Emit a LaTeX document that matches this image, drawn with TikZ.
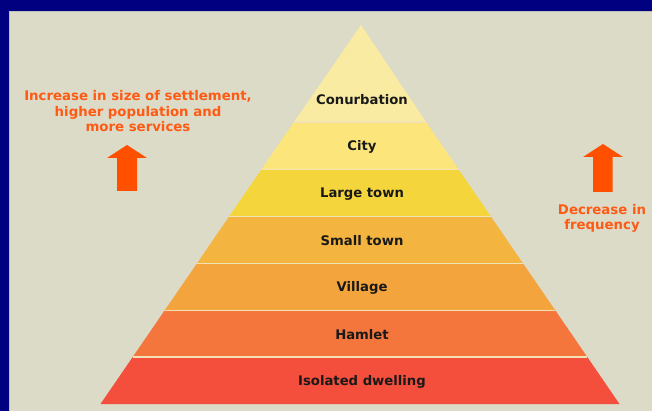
\documentclass[tikz,border=0pt]{standalone}
\usepackage{fontspec}
\setmainfont{DejaVu Sans}
\begin{document}
\begin{tikzpicture}[x=1pt,y=-1pt,
  lbl/.style={font=\bfseries\fontsize{13.2}{15}\selectfont, text=black!90, inner sep=0pt},
  side/.style={font=\bfseries\fontsize{13.3}{15.5}\selectfont, text=orangetxt, align=center, inner sep=0pt},
  sep/.style={draw=sepcol, line width=1.6pt},
  arrowshape/.style={fill=arrowcol, draw=none}]
\definecolor{bg}{HTML}{DCDBC8}
\definecolor{navy}{HTML}{000080}
\definecolor{orangetxt}{HTML}{FF5A14}
\definecolor{arrowcol}{HTML}{FF5000}
\definecolor{sepcol}{HTML}{F2E3B6}
\definecolor{c1}{HTML}{FAEBA2}
\definecolor{c2}{HTML}{FCE57A}
\definecolor{c3}{HTML}{F4D63C}
\definecolor{c4}{HTML}{F4B440}
\definecolor{c5}{HTML}{F4A43C}
\definecolor{c6}{HTML}{F4763C}
\definecolor{c7}{HTML}{F44E3C}
\useasboundingbox (0,0) rectangle (652,411);
\fill[bg] (0,0) rectangle (652,411);
\fill[navy] (0,0) rectangle (652,11);
\fill[navy] (0,0) rectangle (9,411);
\draw[gray!50, line width=0.8pt] (9.4,11.4) -- (652,11.4);
\draw[gray!50, line width=0.8pt] (9.4,11.4) -- (9.4,411);
% pyramid bands
\fill[c1] (361,25) -- (426,122) -- (294,122) -- cycle;
\fill[c2] (294,122) -- (426,122) -- (458.6,169.5) -- (261.4,169.5) -- cycle;
\fill[c3] (261.4,169.5) -- (458.6,169.5) -- (490.9,216.5) -- (229.1,216.5) -- cycle;
\fill[c4] (229.1,216.5) -- (490.9,216.5) -- (523.1,263.5) -- (196.9,263.5) -- cycle;
\fill[c5] (196.9,263.5) -- (523.1,263.5) -- (555.4,310.5) -- (164.6,310.5) -- cycle;
\fill[c6] (164.6,310.5) -- (555.4,310.5) -- (587.3,357) -- (132.7,357) -- cycle;
\fill[c7] (132.7,357) -- (587.3,357) -- (619.5,404) -- (100.5,404) -- cycle;
\draw[sep] (294,122) -- (426,122);
\draw[sep] (261.4,169.5) -- (458.6,169.5);
\draw[sep] (229.1,216.5) -- (490.9,216.5);
\draw[sep] (196.9,263.5) -- (523.1,263.5);
\draw[sep] (164.6,310.5) -- (555.4,310.5);
\draw[sep] (132.7,357) -- (587.3,357);
% labels
\node[lbl] (conurb) at (362,100) {Conurbation};
\node[lbl] (city) at (362,147) {City};
\node[lbl] (large) at (362,194) {Large town};
\node[lbl] (small) at (362,241) {Small town};
\node[lbl] (village) at (362,288) {Village};
\node[lbl] (hamlet) at (362,335) {Hamlet};
\node[lbl] (isolated) at (362,382) {Isolated dwelling};
% side texts
\node[side] (inc) at (138,111.5) {Increase in size of settlement,\\higher population and\\more services};
\node[side] (dec) at (602,218.5) {Decrease in\\frequency};
% arrows
\fill[arrowshape] (127,145) -- (147,158) -- (137,158) -- (137,191) -- (117,191) -- (117,158) -- (107,158) -- cycle;
\fill[arrowshape] (603,144) -- (623,157) -- (612.5,157) -- (612.5,192) -- (593,192) -- (593,157) -- (583,157) -- cycle;
\end{tikzpicture}
\end{document}
